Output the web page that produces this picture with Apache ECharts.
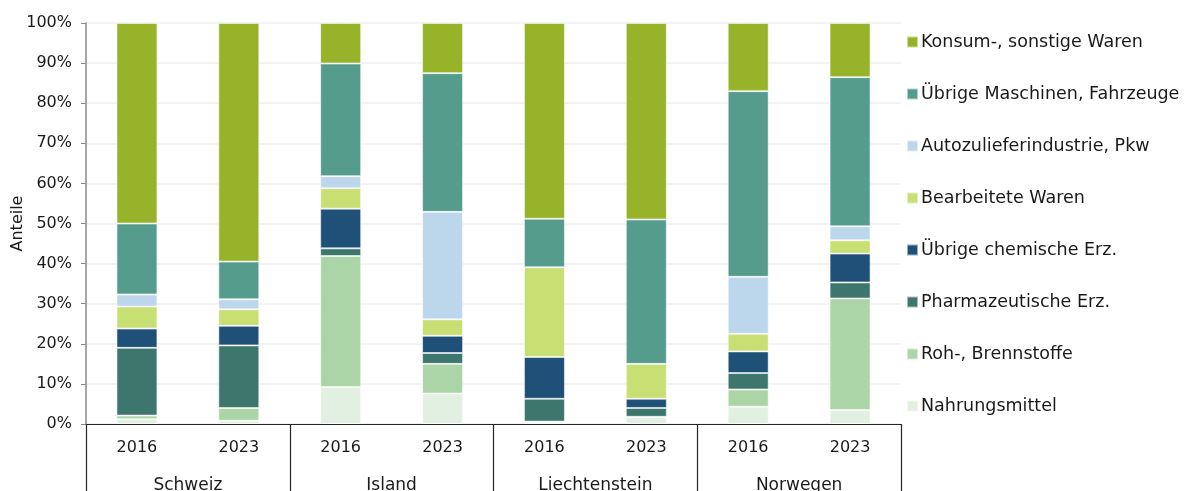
<!DOCTYPE html>
<html>
<head>
<meta charset="utf-8">
<script src="https://cdn.jsdelivr.net/npm/echarts@6/dist/echarts.min.js"></script>
<style>
html,body{margin:0;padding:0;background:#fff;}
#c{width:1190px;height:491px;}
</style>
</head>
<body>
<div id="c"></div>
<script>
const years = ['2016','2023','2016','2023','2016','2023','2016','2023'];
const countries = ['Schweiz','Island','Liechtenstein','Norwegen'];
const yTicks = [0,10,20,30,40,50,60,70,80,90,100];

const seriesNames = ['Nahrungsmittel','Roh-, Brennstoffe','Pharmazeutische Erz.','Übrige chemische Erz.','Bearbeitete Waren','Autozulieferindustrie, Pkw','Übrige Maschinen, Fahrzeuge','Konsum-, sonstige Waren'];
const nahrungsmittel = [1.2, 0.8, 9.2, 7.6, 0.3, 1.7, 4.3, 3.5];
const rohBrennstoffe = [0.9, 3.2, 32.7, 7.4, 0.3, 0.1, 4.3, 27.8];
const pharma = [16.9, 15.6, 1.9, 2.7, 5.7, 2.2, 4.1, 4.0];
const chemie = [4.8, 4.9, 9.9, 4.3, 10.4, 2.3, 5.4, 7.2];
const bearbeitet = [5.5, 4.1, 5.1, 4.1, 22.4, 8.7, 4.4, 3.3];
const auto = [3.0, 2.5, 3.0, 26.8, 0, 0, 14.2, 3.5];
const maschinen = [17.7, 9.4, 28.1, 34.6, 12.1, 36.0, 46.3, 37.2];
const konsum = [50.0, 59.5, 10.1, 12.5, 48.8, 49.0, 17.0, 13.5];

const seriesData = [nahrungsmittel, rohBrennstoffe, pharma, chemie, bearbeitet, auto, maschinen, konsum];
const colors = ['#e2f0e1','#abd5a6','#3d766c','#1f5078','#c8df73','#bcd7ec','#559c8d','#97b329'];

const FONT = 'DejaVu Sans';
const chart = echarts.init(document.getElementById('c'));
chart.setOption({
  animation: false,
  textStyle: {fontFamily: FONT},
  grid: {left: 86, right: 289, top: 23, bottom: 67, containLabel: false, outerBoundsMode: 'none'},
  legend: {
    orient: 'vertical',
    left: 906,
    top: 33,
    padding: 0,
    itemWidth: 11,
    itemHeight: 11,
    itemGap: 34,
    icon: 'rect',
    data: seriesNames.slice().reverse(),
    textStyle: {fontFamily: FONT, fontSize: 17.5, lineHeight: 18, color: '#1a1a1a', padding: [0,0,0,-2]}
  },
  xAxis: [{
    type: 'category',
    data: years,
    position: 'bottom',
    axisLine: {lineStyle: {color: '#262626', width: 1.2}},
    axisTick: {show: false},
    axisLabel: {fontFamily: FONT, fontSize: 16, color: '#1a1a1a', margin: 16}
  }, {
    type: 'category',
    data: countries,
    position: 'bottom',
    axisLine: {show: false},
    axisTick: {show: true, length: 67, lineStyle: {color: '#262626', width: 1.2}},
    axisLabel: {fontFamily: FONT, fontSize: 17, color: '#1a1a1a', margin: 53}
  }],
  yAxis: {
    type: 'value',
    min: 0,
    max: 100,
    interval: 10,
    name: 'Anteile',
    nameLocation: 'middle',
    nameGap: 60,
    nameMoveOverlap: false,
    nameTextStyle: {fontFamily: FONT, fontSize: 16, color: '#1a1a1a'},
    axisLine: {show: true, lineStyle: {color: '#8a8a8a', width: 1.5}},
    axisTick: {show: true, length: 5, lineStyle: {color: '#8a8a8a'}},
    axisLabel: {fontFamily: FONT, fontSize: 16, color: '#1a1a1a', margin: 14,
      formatter: v => yTicks.includes(v) ? v + '%' : ''},
    splitLine: {lineStyle: {color: '#efefef', width: 1.5}}
  },
  series: seriesNames.map((n, i) => ({
    name: n,
    type: 'bar',
    stack: 'total',
    barWidth: 41,
    data: seriesData[i],
    itemStyle: {color: colors[i], borderColor: 'rgba(255,255,255,0.55)', borderWidth: 1}
  }))
});
</script>
</body>
</html>
